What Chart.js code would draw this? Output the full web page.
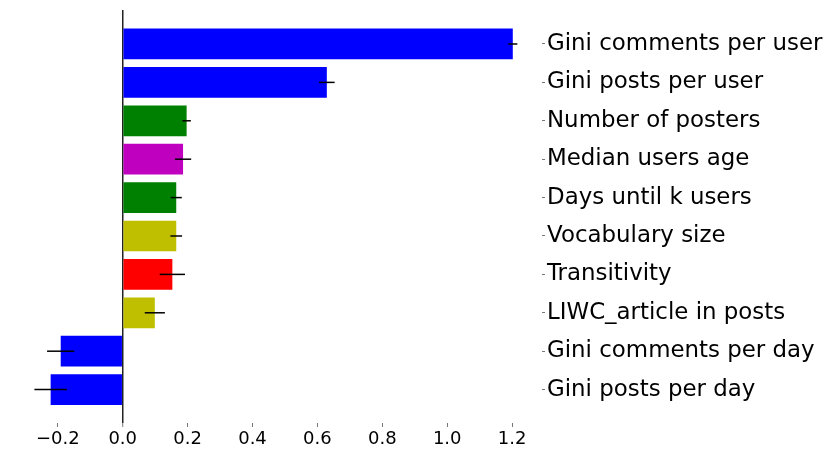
<!DOCTYPE html>
<html lang="en">
<head>
  <meta charset="UTF-8">
  <title>Feature importance</title>
  <style>
    body { margin: 0; background: #fff; }
  </style>
  <script src="https://cdn.jsdelivr.net/npm/chart.js"></script>
</head>
<body>
<canvas id="chart" width="830" height="456"></canvas>
<script>
  const categories = [
    'Gini comments per user', 'Gini posts per user', 'Number of posters',
    'Median users age', 'Days until k users', 'Vocabulary size',
    'Transitivity', 'LIWC_article in posts', 'Gini comments per day',
    'Gini posts per day'
  ];
  const values = [1.202, 0.629, 0.197, 0.186, 0.165, 0.165, 0.153, 0.099, -0.191, -0.222];
  const errors = [0.014, 0.024, 0.013, 0.025, 0.017, 0.018, 0.039, 0.031, 0.042, 0.050];
  const colors = ['#0000ff', '#0000ff', '#008000', '#bf00bf', '#008000',
                  '#bfbf00', '#ff0000', '#bfbf00', '#0000ff', '#0000ff'];
  const xTicks = [-0.2, 0, 0.2, 0.4, 0.6, 0.8, 1.0, 1.2];

  // black horizontal error bars on top of each bar
  const errorBars = {
    id: 'errorBars',
    afterDatasetsDraw(chart) {
      const ctx = chart.ctx;
      const x = chart.scales.x;
      const meta = chart.getDatasetMeta(0);
      ctx.save();
      ctx.strokeStyle = '#000';
      ctx.lineWidth = 1.5;
      meta.data.forEach((bar, i) => {
        ctx.beginPath();
        ctx.moveTo(x.getPixelForValue(values[i] - errors[i]), bar.y);
        ctx.lineTo(x.getPixelForValue(values[i] + errors[i]), bar.y);
        ctx.stroke();
      });
      ctx.restore();
    }
  };

  new Chart(document.getElementById('chart'), {
    type: 'bar',
    data: {
      datasets: [{
        data: values.map((v, i) => ({ x: v, y: i })),
        backgroundColor: colors,
        borderWidth: 0,
        barPercentage: 0.8,
        categoryPercentage: 1.0
      }]
    },
    options: {
      indexAxis: 'y',
      responsive: false,
      animation: false,
      layout: { padding: { left: 15.6, top: 10 } },
      plugins: {
        legend: { display: false },
        tooltip: { enabled: false }
      },
      scales: {
        x: {
          type: 'linear',
          min: -0.33,
          max: 1.292,
          afterBuildTicks: (scale) => { scale.ticks = xTicks.map(v => ({ value: v })); },
          afterFit: (scale) => {
            scale.height = 33;
            scale.paddingLeft = 0;
            scale.paddingRight = 0;
          },
          border: { display: false },
          grid: {
            drawOnChartArea: true,
            color: (c) => c.tick && c.tick.value === 0 ? '#222' : 'rgba(0,0,0,0)',
            lineWidth: (c) => c.tick && c.tick.value === 0 ? 1.5 : 1,
            tickColor: '#777',
            tickWidth: 1,
            tickLength: 4
          },
          ticks: {
            autoSkip: false,
            maxRotation: 0,
            padding: 2,
            color: '#000',
            font: { family: 'DejaVu Sans', size: 18 },
            callback: (v) => (v < 0 ? '\u2212' : '') + Math.abs(v).toFixed(1)
          }
        },
        y: {
          type: 'linear',
          position: 'right',
          reverse: true,
          offset: false,
          min: -0.885,
          max: 9.87,
          afterBuildTicks: (scale) => { scale.ticks = categories.map((c, i) => ({ value: i })); },
          afterFit: (scale) => {
            scale.width = 288;
            scale.paddingTop = 0;
            scale.paddingBottom = 0;
          },
          border: { display: false },
          grid: {
            offset: false,
            drawOnChartArea: false,
            tickColor: '#777',
            tickLength: 3
          },
          ticks: {
            autoSkip: false,
            padding: 2,
            color: '#000',
            font: { family: 'DejaVu Sans', size: 22.9 },
            callback: (v) => categories[v]
          }
        }
      }
    },
    plugins: [errorBars]
  });
</script>
</body>
</html>
